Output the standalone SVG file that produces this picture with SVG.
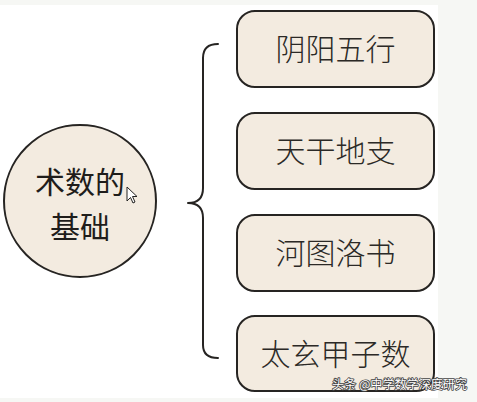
<svg xmlns="http://www.w3.org/2000/svg" width="477" height="402" viewBox="0 0 477 402">
<style>
.bg{fill:#f6f7f4}
.node{fill:#f3ebe0;stroke:#262422;stroke-width:2}
.lbl{font-family:"Noto Sans CJK SC","Noto Sans",sans-serif;font-size:30px;fill:#2b2926;text-anchor:middle;font-weight:300}
.ttl{font-family:"Noto Sans CJK SC","Noto Sans",sans-serif;font-size:30px;fill:#1f1d1b;text-anchor:middle;font-weight:400}
.conn{fill:none;stroke:#262422;stroke-width:2;stroke-linecap:round;stroke-linejoin:round}
.wm{font-family:"Noto Sans CJK SC","Noto Sans",sans-serif;font-size:12px;fill:#ffffff;stroke:#444444;stroke-width:1.6;paint-order:stroke;stroke-linejoin:round}
</style>
<rect x="0" y="0" width="477" height="402" class="bg"/>
<rect x="0" y="5" width="438" height="393" fill="#ffffff"/>
<g id="connectors">
<path class="conn" d="M218,44 Q203,44 203,58 L203,188 Q203,203 188,203 Q203,203 203,218 L203,345 Q203,358 218,358"/>
</g>
<g id="root">
<circle class="node" cx="80" cy="201" r="76"/>
<text class="ttl" x="80" y="193">术数的</text>
<text class="ttl" x="80" y="238">基础</text>
</g>
<g id="n1">
<rect class="node" x="237" y="11" width="197" height="76" rx="18"/>
<text class="lbl" x="335.5" y="60">阴阳五行</text>
</g>
<g id="n2">
<rect class="node" x="237" y="113" width="197" height="76" rx="18"/>
<text class="lbl" x="335.5" y="162">天干地支</text>
</g>
<g id="n3">
<rect class="node" x="237" y="215" width="197" height="76" rx="18"/>
<text class="lbl" x="335.5" y="264">河图洛书</text>
</g>
<g id="n4">
<rect class="node" x="237" y="316" width="197" height="75" rx="18"/>
<text class="lbl" x="335.5" y="365">太玄甲子数</text>
</g>
<path d="M127,187 L127,201 L130.5,197.5 L133,203 L135,202 L132.5,196.5 L137,196.5 Z" fill="#ffffff" stroke="#222222" stroke-width="1" stroke-linejoin="round"/>
<text class="wm" x="332" y="389" textLength="135" lengthAdjust="spacingAndGlyphs">头条 @中学数学深度研究</text>
</svg>
